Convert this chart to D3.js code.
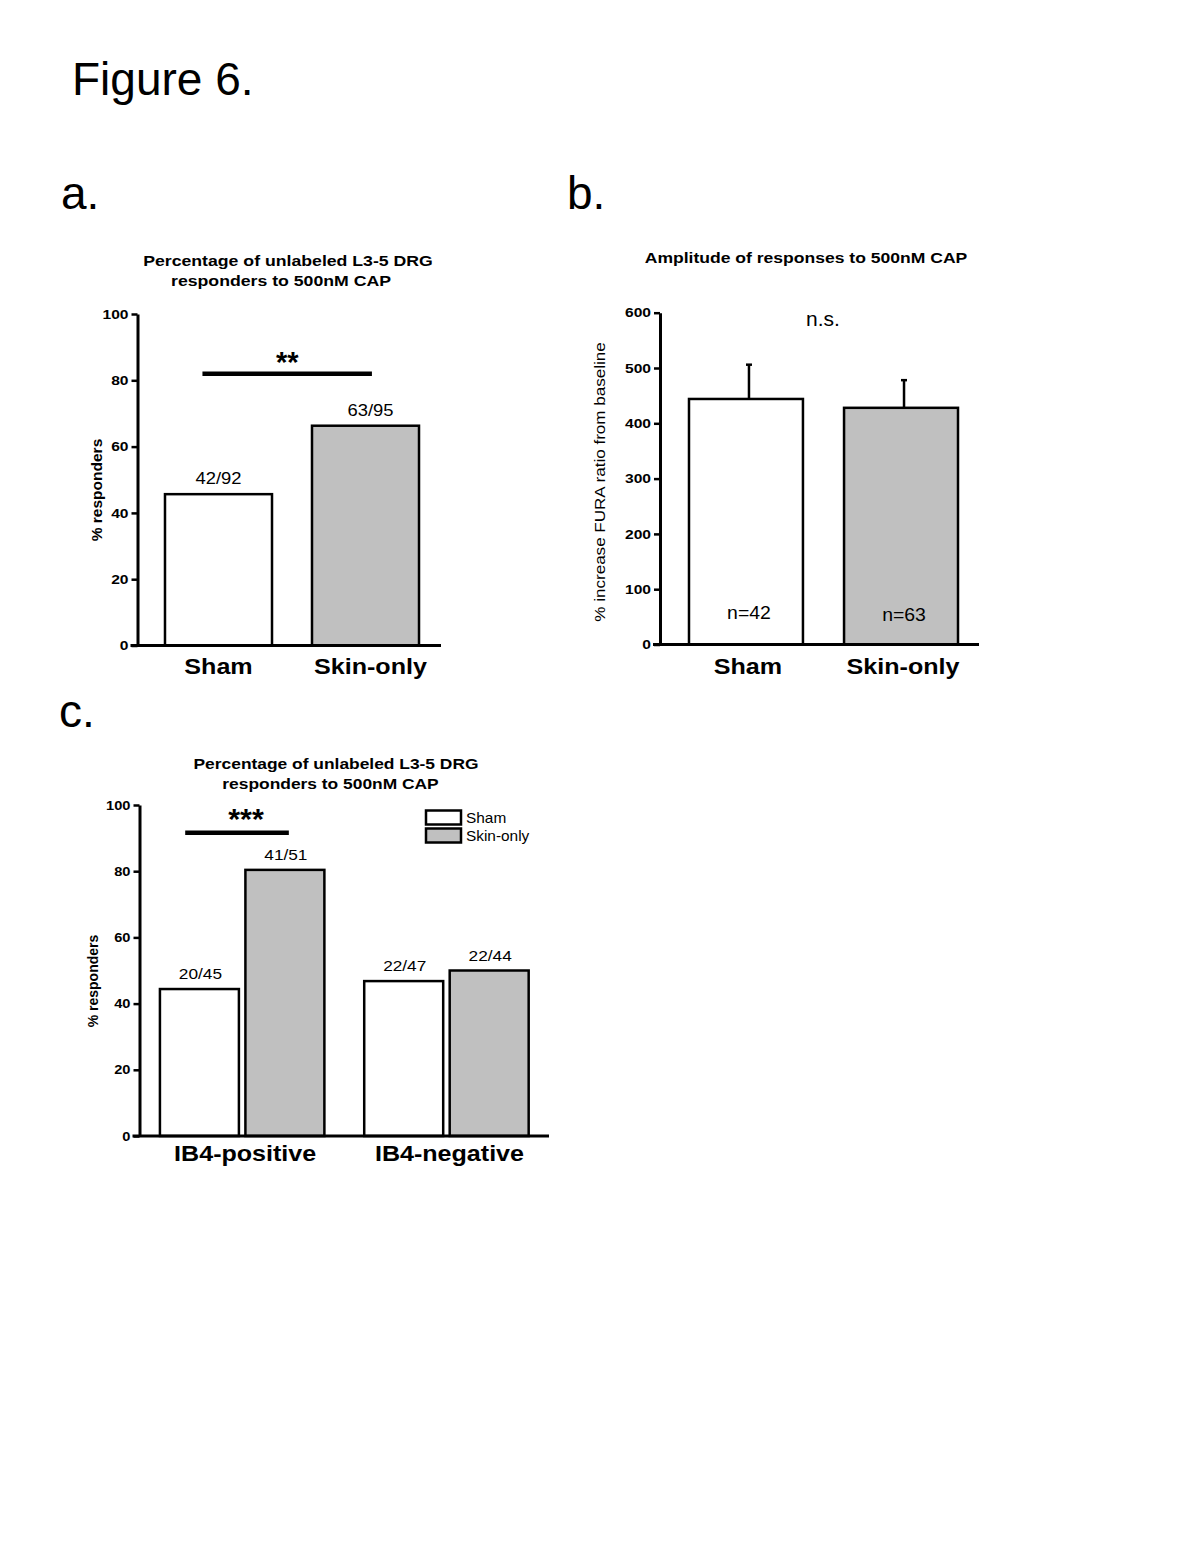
<!DOCTYPE html>
<html>
<head>
<meta charset="utf-8">
<script src="https://cdn.jsdelivr.net/npm/d3@7"></script>
<style>
  body { margin: 0; background: #fff; }
  svg { display: block; font-family: "Liberation Sans", Arial, sans-serif; }
</style>
</head>
<body>
<div id="chart"></div>
<script>
// Panel a data
const groupsA = ["Sham", "Skin-only"];
const valuesA = [45.65, 66.3];
const labelsA = ["42/92", "63/95"];
const ticksA = [0, 20, 40, 60, 80, 100];

// Panel b data
const groupsB = ["Sham", "Skin-only"];
const valuesB = [444, 428];
const errorsB = [62, 50];
const labelsB = ["n=42", "n=63"];
const ticksB = [0, 100, 200, 300, 400, 500, 600];

// Panel c data
const groupsC = ["IB4-positive", "IB4-negative"];
const seriesC = ["Sham", "Skin-only"];
const shamC = [44.4, 46.8];
const skinC = [80.4, 50.0];
const shamLabelsC = ["20/45", "22/47"];
const skinLabelsC = ["41/51", "22/44"];
const ticksC = [0, 20, 40, 60, 80, 100];

const fills = { "Sham": "#ffffff", "Skin-only": "#c0c0c0" };

const svg = d3.select("#chart")
  .append("svg")
  .attr("width", 1200)
  .attr("height", 1553);

// text helper: horizontal stretch like the original scanned figure
function txt(parent, x, y, str, o) {
  o = o || {};
  return parent.append("text")
    .attr("transform", `translate(${x},${y}) rotate(${o.rot || 0}) scale(${o.sx || 1},1)`)
    .attr("text-anchor", o.anchor || "middle")
    .style("font-size", o.fs + "px")
    .style("font-weight", o.bold ? "bold" : "normal")
    .attr("fill", "#000")
    .text(str);
}

function yAxis(g, y, ticks, x0, fs, sx) {
  const ax = g.append("g")
    .attr("transform", `translate(${x0},0)`)
    .call(d3.axisLeft(y).tickValues(ticks).tickSize(6).tickSizeOuter(0));
  ax.select(".domain").attr("stroke-width", 3).attr("stroke", "#000");
  ax.selectAll(".tick line").attr("stroke-width", 2.5).attr("stroke", "#000");
  ax.selectAll(".tick text")
    .attr("x", 0)
    .attr("transform", `translate(-9,0) scale(${sx},1)`)
    .style("font-size", fs + "px")
    .style("font-weight", "bold")
    .attr("fill", "#000")
    .attr("font-family", "Liberation Sans, Arial, sans-serif");
  return ax;
}

function baseLine(g, x1, x2, yv) {
  g.append("line")
    .attr("x1", x1).attr("x2", x2)
    .attr("y1", yv).attr("y2", yv)
    .attr("stroke", "#000").attr("stroke-width", 3);
}

// Figure title and panel letters
txt(svg, 72, 95, "Figure 6.", { fs: 46, anchor: "start" });
txt(svg, 61, 209, "a.", { fs: 46, anchor: "start" });
txt(svg, 567, 209, "b.", { fs: 46, anchor: "start" });
txt(svg, 59, 727, "c.", { fs: 46, anchor: "start" });

// ---------- Panel a ----------
{
  const g = svg.append("g");
  const axisX = 137.5, axisEnd = 441;
  const y = d3.scaleLinear().domain([0, 100]).range([645.5, 314]);
  const x = d3.scaleBand().domain(groupsA).range([axisX, 446.5]).paddingInner(0.272).paddingOuter(0.187);

  txt(g, 288, 265.5, "Percentage of unlabeled L3-5 DRG", { fs: 14.5, bold: true, sx: 1.22 });
  txt(g, 281, 286, "responders to 500nM CAP", { fs: 14.5, bold: true, sx: 1.22 });

  g.selectAll(".bar")
    .data(groupsA)
    .enter()
    .append("rect")
    .attr("class", "bar")
    .attr("x", d => x(d))
    .attr("width", x.bandwidth())
    .attr("y", (d, i) => y(valuesA[i]))
    .attr("height", (d, i) => y(0) - y(valuesA[i]))
    .attr("fill", d => fills[d])
    .attr("stroke", "#000")
    .attr("stroke-width", 2.5);

  groupsA.forEach((d, i) => {
    txt(g, x(d) + x.bandwidth() / 2 + i * 5, y(valuesA[i]) - 10, labelsA[i], { fs: 16, sx: 1.15 });
    txt(g, x(d) + x.bandwidth() / 2 + i * 5, 674, d, { fs: 22, bold: true, sx: 1.14 });
  });

  // significance bar
  const s1 = x("Sham") + 0.35 * x.bandwidth();
  const s2 = x("Skin-only") + 0.56 * x.bandwidth();
  g.append("line")
    .attr("x1", s1).attr("x2", s2)
    .attr("y1", y(82)).attr("y2", y(82))
    .attr("stroke", "#000").attr("stroke-width", 4.5);
  txt(g, (s1 + s2) / 2, 372, "**", { fs: 29, bold: true });

  yAxis(g, y, ticksA, axisX, 13, 1.2);
  baseLine(g, axisX - 7, axisEnd, y(0));
  txt(g, 102, 490, "% responders", { fs: 15.5, bold: true, rot: -90 });
}

// ---------- Panel b ----------
{
  const g = svg.append("g");
  const axisX = 660, axisEnd = 979;
  const y = d3.scaleLinear().domain([0, 600]).range([644.5, 312.7]);
  const x = d3.scaleBand().domain(groupsB).range([axisX, 987]).paddingInner(0.265).paddingOuter(0.187);

  txt(g, 806, 263, "Amplitude of responses to 500nM CAP", { fs: 15, bold: true, sx: 1.17 });

  // error bars (drawn first so the bar outline covers the base)
  groupsB.forEach((d, i) => {
    const cx = x(d) + x.bandwidth() / 2 + 3;
    const top = y(valuesB[i] + errorsB[i]);
    g.append("line")
      .attr("x1", cx).attr("x2", cx)
      .attr("y1", y(valuesB[i])).attr("y2", top)
      .attr("stroke", "#000").attr("stroke-width", 2.5);
    g.append("line")
      .attr("x1", cx - 3).attr("x2", cx + 3)
      .attr("y1", top).attr("y2", top)
      .attr("stroke", "#000").attr("stroke-width", 2.5);
  });

  g.selectAll(".bar")
    .data(groupsB)
    .enter()
    .append("rect")
    .attr("class", "bar")
    .attr("x", d => x(d))
    .attr("width", x.bandwidth())
    .attr("y", (d, i) => y(valuesB[i]))
    .attr("height", (d, i) => y(0) - y(valuesB[i]))
    .attr("fill", d => fills[d])
    .attr("stroke", "#000")
    .attr("stroke-width", 2.5);

  groupsB.forEach((d, i) => {
    txt(g, x(d) + x.bandwidth() / 2 + 3, 618.5 + i * 2, labelsB[i], { fs: 18, sx: 1.08 });
    txt(g, x(d) + x.bandwidth() / 2 + 2, 673.5, d, { fs: 22, bold: true, sx: 1.14 });
  });

  txt(g, 823, 326, "n.s.", { fs: 21 });

  yAxis(g, y, ticksB, axisX, 13, 1.2);
  baseLine(g, axisX - 7, axisEnd, y(0));
  txt(g, 605, 482, "% increase FURA ratio from baseline", { fs: 15.5, rot: -90, sx: 1.1 });
}

// ---------- Panel c ----------
{
  const g = svg.append("g");
  const axisX = 139.5, axisEnd = 549;
  const y = d3.scaleLinear().domain([0, 100]).range([1136, 805]);
  const x0 = d3.scaleBand().domain(groupsC).range([axisX, 549.1]).paddingInner(0.195).paddingOuter(0.1);
  const x1 = d3.scaleBand().domain(seriesC).range([0, x0.bandwidth()]).paddingInner(0.076);

  txt(g, 336, 768.5, "Percentage of unlabeled L3-5 DRG", { fs: 14.5, bold: true, sx: 1.2 });
  txt(g, 330.5, 788.5, "responders to 500nM CAP", { fs: 14.5, bold: true, sx: 1.2 });

  const rows = [];
  groupsC.forEach((grp, i) => {
    rows.push({ grp, s: "Sham", v: shamC[i], lab: shamLabelsC[i] });
    rows.push({ grp, s: "Skin-only", v: skinC[i], lab: skinLabelsC[i] });
  });

  g.selectAll(".bar")
    .data(rows)
    .enter()
    .append("rect")
    .attr("class", "bar")
    .attr("x", d => x0(d.grp) + x1(d.s))
    .attr("width", x1.bandwidth())
    .attr("y", d => y(d.v))
    .attr("height", d => y(0) - y(d.v))
    .attr("fill", d => fills[d.s])
    .attr("stroke", "#000")
    .attr("stroke-width", 2.5);

  rows.forEach(d => {
    txt(g, x0(d.grp) + x1(d.s) + x1.bandwidth() / 2 + 1, y(d.v) - 10, d.lab, { fs: 15, sx: 1.15 });
  });

  groupsC.forEach(grp => {
    txt(g, x0(grp) + x0.bandwidth() / 2 + 3, 1160.5, grp, { fs: 22, bold: true, sx: 1.14 });
  });

  // significance bar
  const s1 = x0("IB4-positive") + x1("Sham") + 0.32 * x1.bandwidth();
  const s2 = x0("IB4-positive") + x1("Skin-only") + 0.55 * x1.bandwidth();
  g.append("line")
    .attr("x1", s1).attr("x2", s2)
    .attr("y1", y(91.6)).attr("y2", y(91.6))
    .attr("stroke", "#000").attr("stroke-width", 4.5);
  txt(g, 246, 829, "***", { fs: 29, bold: true, sx: 1.05 });

  // legend
  seriesC.forEach((s, i) => {
    g.append("rect")
      .attr("x", 426).attr("y", 810.5 + i * 18)
      .attr("width", 35).attr("height", 14)
      .attr("fill", fills[s])
      .attr("stroke", "#000").attr("stroke-width", 2.5);
    txt(g, 466, 823 + i * 18, s, { fs: 14, anchor: "start", sx: 1.1 });
  });

  yAxis(g, y, ticksC, axisX, 12.5, 1.17);
  baseLine(g, axisX - 7, axisEnd, y(0));
  txt(g, 98, 981, "% responders", { fs: 14, bold: true, rot: -90 });
}
</script>
</body>
</html>
